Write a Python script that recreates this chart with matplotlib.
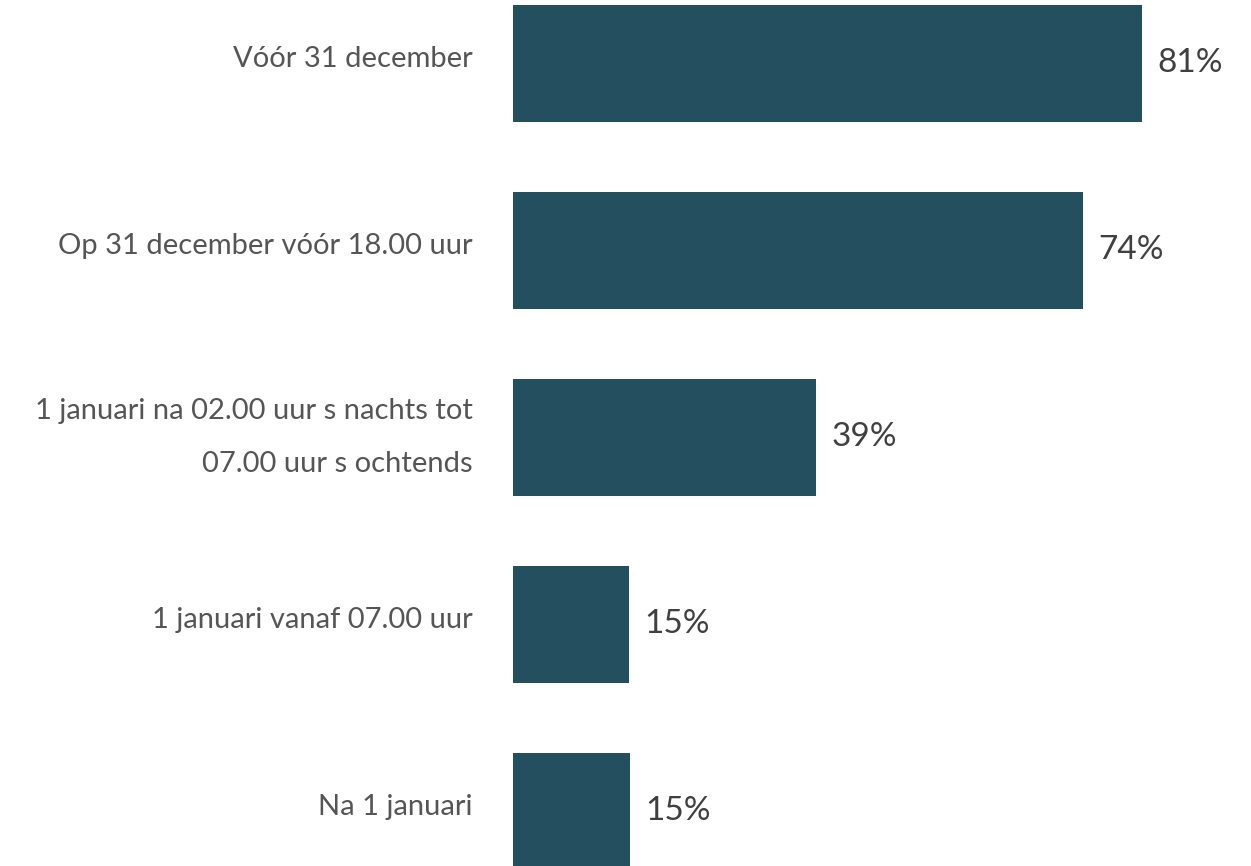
import matplotlib.pyplot as plt
from matplotlib.transforms import ScaledTranslation

plt.rcParams['font.family'] = ['Lato', 'DejaVu Sans']

labels = ["Vóór 31 december",
          "Op 31 december vóór 18.00 uur",
          "1 januari na 02.00 uur s nachts tot\n07.00 uur s ochtends",
          "1 januari vanaf 07.00 uur",
          "Na 1 januari"]
values = [81, 73.4, 39, 14.9, 15.1]
value_labels = ["81%", "74%", "39%", "15%", "15%"]

fig = plt.figure(figsize=(12.51, 8.66), dpi=100)
ax = fig.add_axes([513 / 1251, 0, 1 - 513 / 1251, 1])

pos = list(range(len(values)))
ax.barh(pos, values, height=0.626, color="#234F5E")

# scale: ~7.76 px per percent
ax.set_xlim(0, 738 / 7.76)
top = -63.5 / 186.9
bottom = (866 - 63.5) / 186.9
ax.set_ylim(bottom, top)

for y, v, t in zip(pos, values, value_labels):
    ax.text(v + 2.0, y, t, va="center", ha="left",
            fontsize=24, color="#404040")

ax.set_yticks(pos)
ax.set_yticklabels(labels, fontsize=21, color="#555555", linespacing=2.3)
ax.tick_params(axis="y", length=0, pad=29)
# labels sit a little above the bar centre
for lbl in ax.get_yticklabels():
    up = 16 if "\n" in lbl.get_text() else 7
    lbl.set_transform(lbl.get_transform() +
                      ScaledTranslation(0, up / 100, fig.dpi_scale_trans))
ax.set_xticks([])
for s in ax.spines.values():
    s.set_visible(False)

fig.savefig("out.png", dpi=100)
